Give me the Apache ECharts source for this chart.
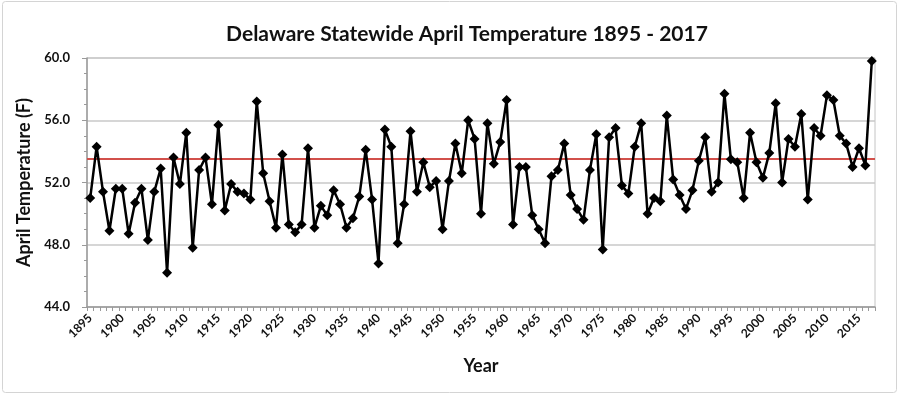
<!DOCTYPE html>
<html>
<head>
<meta charset="utf-8">
<script src="https://cdn.jsdelivr.net/npm/echarts@6/dist/echarts.min.js"></script>
<style>
html,body{margin:0;padding:0;background:#fff;}
#chart{width:899px;height:395px;}
</style>
</head>
<body>
<div id="chart"></div>
<script>
const startYear = 1895;
const endYear = 2017;
const years = [];
for (let y = startYear; y <= endYear; y++) years.push(String(y));

const aprilTemp = [
  51.0, 54.3, 51.4, 48.9, 51.6,
  51.6, 48.7, 50.7, 51.6, 48.3,
  51.4, 52.9, 46.2, 53.6, 51.9,
  55.2, 47.8, 52.8, 53.6, 50.6,
  55.7, 50.2, 51.9, 51.4, 51.3,
  50.9, 57.2, 52.6, 50.8, 49.1,
  53.8, 49.3, 48.8, 49.3, 54.2,
  49.1, 50.5, 49.9, 51.5, 50.6,
  49.1, 49.7, 51.1, 54.1, 50.9,
  46.8, 55.4, 54.3, 48.1, 50.6,
  55.3, 51.4, 53.3, 51.7, 52.1,
  49.0, 52.1, 54.5, 52.6, 56.0,
  54.8, 50.0, 55.8, 53.2, 54.6,
  57.3, 49.3, 53.0, 53.0, 49.9,
  49.0, 48.1, 52.4, 52.8, 54.5,
  51.2, 50.3, 49.6, 52.8, 55.1,
  47.7, 54.9, 55.5, 51.8, 51.3,
  54.3, 55.8, 50.0, 51.0, 50.8,
  56.3, 52.2, 51.2, 50.3, 51.5,
  53.4, 54.9, 51.4, 52.0, 57.7,
  53.5, 53.3, 51.0, 55.2, 53.3,
  52.3, 53.9, 57.1, 52.0, 54.8,
  54.3, 56.4, 50.9, 55.5, 55.0,
  57.6, 57.3, 55.0, 54.5, 53.0,
  54.2, 53.1, 59.8
];
const meanTemp = 53.5;
const yMin = 44, yMax = 60, yStep = 4;

const FONT = 'Lato, "Open Sans", sans-serif';
const chart = echarts.init(document.getElementById('chart'), null, {renderer: 'canvas'});
chart.setOption({
  animation: false,
  backgroundColor: '#ffffff',
  graphic: [{
    type: 'rect', silent: true, z: -10,
    shape: {x: 2.5, y: 1.5, width: 894, height: 391, r: 3},
    style: {fill: '#ffffff', stroke: '#d4d4d4', lineWidth: 1}
  }],
  title: {
    text: 'Delaware Statewide April Temperature 1895 - 2017',
    left: 462, top: 19, textAlign: 'center',
    textStyle: {fontFamily: FONT, fontSize: 21, fontWeight: 'bold', color: '#111'}
  },
  grid: {
    left: 87, right: 24, top: 58, bottom: 88,
    show: true, borderColor: '#c4c4c4', borderWidth: 1, backgroundColor: 'transparent'
  },
  xAxis: {
    type: 'category',
    data: years,
    boundaryGap: true,
    name: 'Year',
    nameLocation: 'middle',
    nameGap: 50,
    nameTextStyle: {fontFamily: FONT, fontSize: 18, fontWeight: 'bold', color: '#111'},
    axisLine: {lineStyle: {color: '#9a9a9a', width: 1.5}},
    axisTick: {show: true, interval: 0, length: 4, lineStyle: {color: '#9a9a9a'}},
    axisLabel: {
      interval: 4, rotate: 45, margin: 9,
      fontFamily: FONT, fontSize: 12, fontWeight: 'bold', color: '#111'
    },
    splitLine: {show: false}
  },
  yAxis: {
    type: 'value',
    min: yMin, max: yMax, interval: yStep,
    name: 'April Temperature (F)',
    nameLocation: 'middle',
    nameGap: 46,
    nameTextStyle: {fontFamily: FONT, fontSize: 18, fontWeight: 'bold', color: '#111'},
    axisLine: {show: true, lineStyle: {color: '#9a9a9a', width: 1.5}},
    axisTick: {show: true, length: 5, inside: false, lineStyle: {color: '#9a9a9a'}},
    minorTick: {show: true, splitNumber: 4, length: 3, lineStyle: {color: '#9a9a9a'}},
    axisLabel: {
      margin: 17,
      formatter: v => v.toFixed(1),
      fontFamily: FONT, fontSize: 13, fontWeight: 'bold', color: '#111'
    },
    splitLine: {show: true, lineStyle: {color: '#c8c8c8', width: 1.5}}
  },
  series: [{
    type: 'line',
    data: aprilTemp,
    symbol: 'diamond',
    symbolSize: 10,
    showSymbol: true,
    showAllSymbol: true,
    itemStyle: {color: '#000'},
    lineStyle: {color: '#000', width: 2.5},
    z: 3,
    markLine: {
      silent: true,
      symbol: 'none',
      label: {show: false},
      lineStyle: {color: '#d2504b', width: 2, type: 'solid'},
      data: [{yAxis: meanTemp}],
      z: 2
    }
  }]
});
</script>
</body>
</html>
